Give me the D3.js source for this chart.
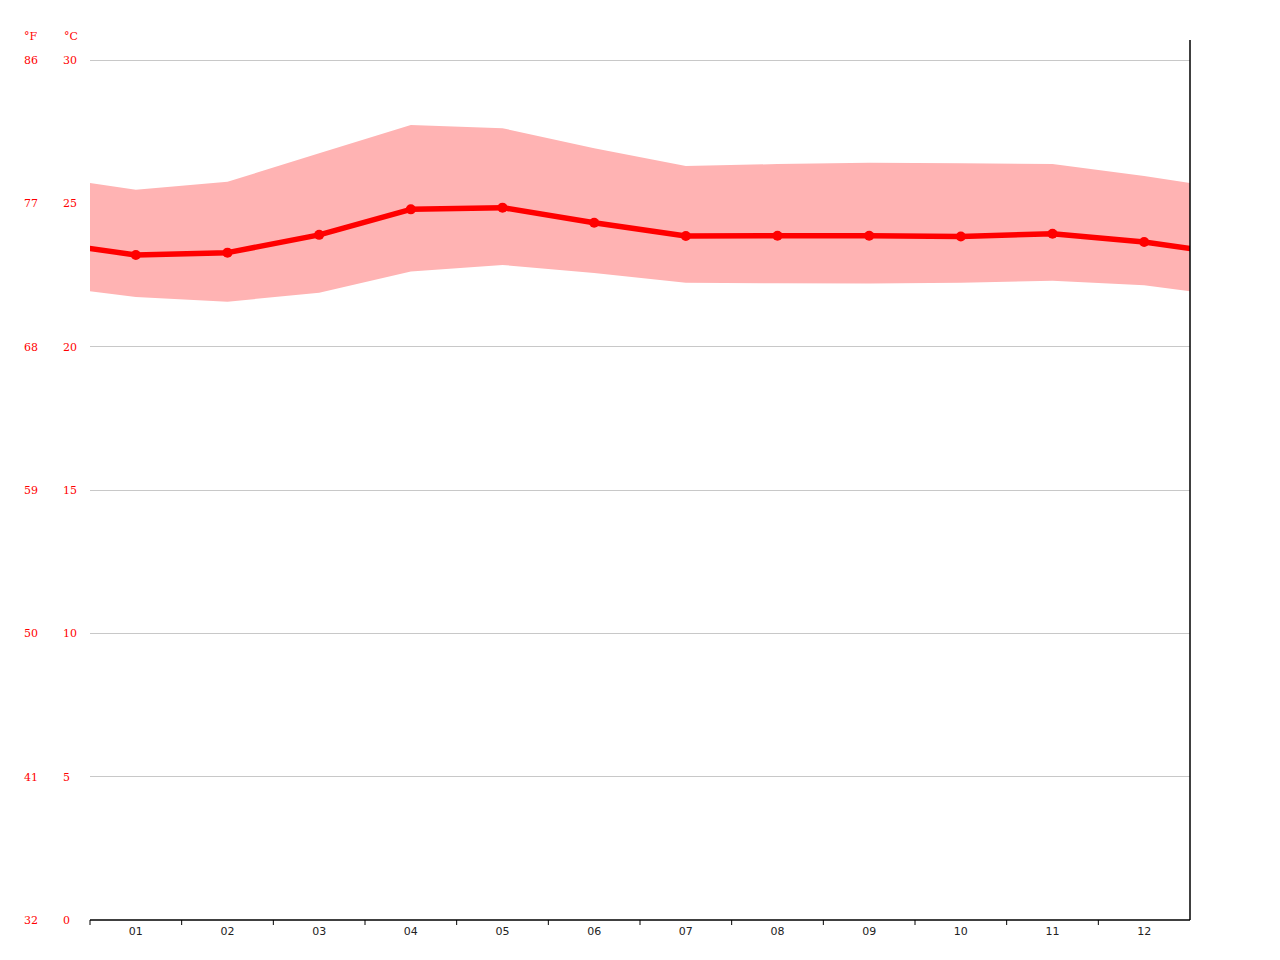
<!DOCTYPE html>
<html>
<head>
<meta charset="utf-8">
<script src="https://cdn.jsdelivr.net/npm/d3@7"></script>
<style>
  body { margin: 0; background: #fff; }
  svg { display: block; }
</style>
</head>
<body>
<div id="chart"></div>
<script>
// Monthly temperature data (°C)
const months = ["01", "02", "03", "04", "05", "06", "07", "08", "09", "10", "11", "12"];
const tempMean = [23.20, 23.28, 23.90, 24.79, 24.85, 24.32, 23.86, 23.87, 23.87, 23.84, 23.94, 23.65];
const tempMax = [25.47, 25.75, 26.75, 27.73, 27.62, 26.92, 26.30, 26.37, 26.42, 26.40, 26.37, 25.95];
const tempMin = [21.73, 21.57, 21.88, 22.62, 22.85, 22.57, 22.23, 22.21, 22.20, 22.23, 22.30, 22.14];
const celsiusTicks = [0, 5, 10, 15, 20, 25, 30];

const width = 1280, height = 960;
const plotLeft = 90, plotRight = 1190, plotTop = 60, plotBottom = 920;

const svg = d3.select("#chart")
  .append("svg")
  .attr("width", width)
  .attr("height", height);

const x = d3.scaleLinear().domain([0, 12]).range([plotLeft, plotRight]);
const y = d3.scaleLinear().domain([0, 30]).range([plotBottom, plotTop]);

// clip so the wrapped ends stop at the plot edges
svg.append("clipPath").attr("id", "plot-clip")
  .append("rect")
  .attr("x", plotLeft).attr("y", 0)
  .attr("width", plotRight - plotLeft).attr("height", plotBottom);

// horizontal grid lines
svg.append("g")
  .selectAll("line")
  .data(celsiusTicks.filter(t => t > 0))
  .join("line")
  .attr("x1", plotLeft).attr("x2", plotRight)
  .attr("y1", d => y(d)).attr("y2", d => y(d))
  .attr("stroke", "#c8c8c8")
  .attr("stroke-width", 1)
  .attr("shape-rendering", "crispEdges");

// wrap December before January and January after December
const points = months.map((m, i) => ({ pos: i + 0.5, mean: tempMean[i], max: tempMax[i], min: tempMin[i] }));
const n = points.length;
const wrapped = [
  { pos: -0.5, mean: tempMean[n - 1], max: tempMax[n - 1], min: tempMin[n - 1] },
  ...points,
  { pos: 12.5, mean: tempMean[0], max: tempMax[0], min: tempMin[0] }
];

const plot = svg.append("g").attr("clip-path", "url(#plot-clip)");

const area = d3.area()
  .x(d => x(d.pos))
  .y0(d => y(d.min))
  .y1(d => y(d.max));

plot.append("path")
  .datum(wrapped)
  .attr("d", area)
  .attr("fill", "#ffb3b3");

const line = d3.line()
  .x(d => x(d.pos))
  .y(d => y(d.mean));

plot.append("path")
  .datum(wrapped)
  .attr("d", line)
  .attr("fill", "none")
  .attr("stroke", "#ff0000")
  .attr("stroke-width", 5.5)
  .attr("stroke-linejoin", "round");

plot.append("g")
  .selectAll("circle")
  .data(points)
  .join("circle")
  .attr("cx", d => x(d.pos))
  .attr("cy", d => y(d.mean))
  .attr("r", 5)
  .attr("fill", "#ff0000");

// bottom axis with ticks at month boundaries
const xAxis = svg.append("g")
  .attr("transform", `translate(0,${plotBottom})`);
xAxis.append("line")
  .attr("x1", plotLeft).attr("x2", plotRight)
  .attr("stroke", "#000")
  .attr("stroke-width", 1.5);
xAxis.selectAll("line.tick")
  .data(d3.range(0, 12))
  .join("line")
  .attr("class", "tick")
  .attr("x1", d => x(d)).attr("x2", d => x(d))
  .attr("y1", 0).attr("y2", 5)
  .attr("stroke", "#000")
  .attr("stroke-width", 1);
xAxis.selectAll("text")
  .data(months)
  .join("text")
  .attr("x", (d, i) => x(i + 0.5))
  .attr("y", 15)
  .attr("text-anchor", "middle")
  .style("font-family", "'DejaVu Sans', sans-serif")
  .style("font-size", "11px")
  .style("fill", "#222")
  .text(d => d);

// right frame line
svg.append("line")
  .attr("x1", plotRight).attr("x2", plotRight)
  .attr("y1", 40).attr("y2", plotBottom)
  .attr("stroke", "#000")
  .attr("stroke-width", 1.5);

// temperature labels, °F and °C
const labelStyle = sel => sel
  .style("font-family", "'DejaVu Serif', serif")
  .style("font-size", "11px")
  .style("fill", "#ff0000");

svg.append("text").attr("x", 24).attr("y", 40).call(labelStyle).text("°F");
svg.append("text").attr("x", 64).attr("y", 40).call(labelStyle).text("°C");

svg.append("g")
  .selectAll("text")
  .data(celsiusTicks)
  .join("text")
  .attr("x", 63)
  .attr("y", d => y(d) + 4)
  .call(labelStyle)
  .text(d => d);

svg.append("g")
  .selectAll("text")
  .data(celsiusTicks)
  .join("text")
  .attr("x", 24)
  .attr("y", d => y(d) + 4)
  .call(labelStyle)
  .text(d => Math.round(d * 9 / 5 + 32));
</script>
</body>
</html>
